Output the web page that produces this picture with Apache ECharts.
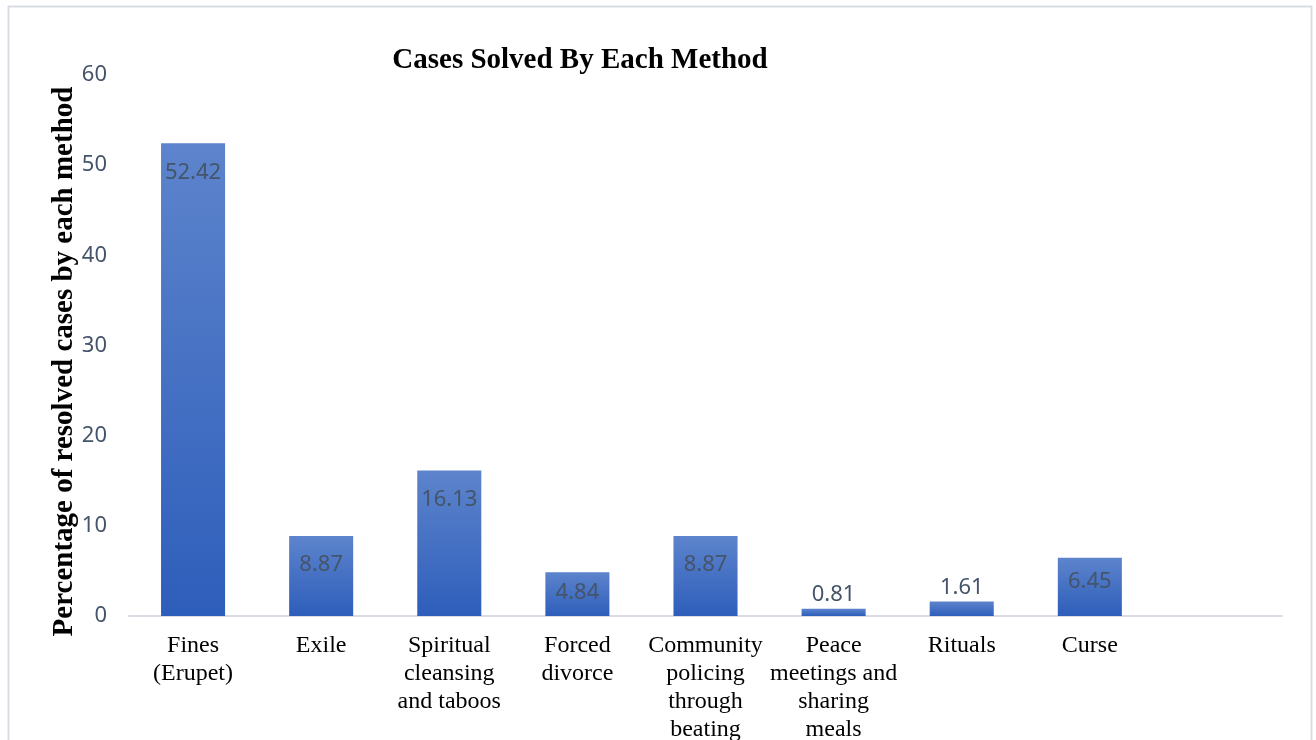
<!DOCTYPE html>
<html>
<head>
<meta charset="utf-8">
<title>Cases Solved By Each Method</title>
<script src="https://cdn.jsdelivr.net/npm/echarts@6/dist/echarts.min.js"></script>
<style>
  html, body { margin: 0; padding: 0; background: #ffffff; }
  #chart { width: 1316px; height: 740px; }
</style>
</head>
<body>
<div id="chart"></div>
<script>
// Methods used to resolve cases (last slot left empty, as in the original layout)
const methods = [
  'Fines\n(Erupet)',
  'Exile',
  'Spiritual\ncleansing\nand taboos',
  'Forced\ndivorce',
  'Community\npolicing\nthrough\nbeating',
  'Peace\nmeetings and\nsharing\nmeals',
  'Rituals',
  'Curse',
  ''
];

// Percentage of resolved cases per method
const percentages = [52.42, 8.87, 16.13, 4.84, 8.87, 0.81, 1.61, 6.45, null];

// Value axis ticks
const yTicks = [0, 10, 20, 30, 40, 50, 60];

const labelColor = '#44546a';

// Small bars get their label above the bar; taller bars keep it inside the top edge
const seriesData = percentages.map(function (v) {
  if (v === null) return { value: null };
  let label;
  if (v < 3) {
    label = { position: 'top', distance: 3 };
  } else {
    const d = v >= 8 ? 18 : (v >= 6 ? 13 : 9);
    label = { position: 'insideTop', distance: d };
  }
  return { value: v, label: label };
});

const chart = echarts.init(document.getElementById('chart'), null, { renderer: 'canvas' });

chart.setOption({
  backgroundColor: '#ffffff',
  animation: false,
  graphic: [{
    type: 'rect',
    shape: { x: 8.5, y: 6.5, width: 1303, height: 760 },
    style: { fill: 'none', stroke: '#d9dde3', lineWidth: 2 },
    silent: true,
    z: -10
  }],
  title: {
    text: 'Cases Solved By Each Method',
    left: 575,
    top: 41,
    textAlign: 'center',
    textStyle: {
      fontFamily: '"Liberation Serif", "Times New Roman", serif',
      fontWeight: 'bold',
      fontSize: 29,
      color: '#000000'
    }
  },
  grid: {
    left: 129,
    right: 34,
    top: 75,
    bottom: 124,
    containLabel: false,
    outerBoundsMode: 'none'
  },
  xAxis: {
    type: 'category',
    data: methods,
    axisLine: { show: true, lineStyle: { color: '#d9dde3', width: 2 } },
    axisTick: { show: false },
    axisLabel: {
      interval: 0,
      margin: 16,
      fontFamily: '"Liberation Serif", "Times New Roman", serif',
      fontSize: 24,
      lineHeight: 28,
      color: '#000000',
      align: 'center'
    }
  },
  yAxis: {
    type: 'value',
    min: yTicks[0],
    max: yTicks[yTicks.length - 1],
    interval: yTicks[1] - yTicks[0],
    name: 'Percentage of resolved cases by each method',
    nameLocation: 'middle',
    nameGap: 50,
    nameMoveOverlap: false,
    nameRotate: 90,
    nameTextStyle: {
      fontFamily: '"Liberation Serif", "Times New Roman", serif',
      fontWeight: 'bold',
      fontSize: 29,
      color: '#000000',
      padding: [0, 32, 0, 0]
    },
    axisLine: { show: false },
    axisTick: { show: false },
    splitLine: { show: false },
    axisLabel: {
      margin: 22,
      fontFamily: '"Noto Sans", "Open Sans", sans-serif',
      fontSize: 22,
      color: labelColor
    }
  },
  series: [{
    type: 'bar',
    data: seriesData,
    barWidth: '50%',
    itemStyle: {
      color: new echarts.graphic.LinearGradient(0, 0, 0, 1, [
        { offset: 0, color: '#5d84cc' },
        { offset: 1, color: '#2e5ebb' }
      ])
    },
    label: {
      show: true,
      fontFamily: '"Noto Sans", "Open Sans", sans-serif',
      fontSize: 22,
      color: labelColor,
      formatter: function (p) { return p.value.toFixed(2); }
    }
  }]
});
</script>
</body>
</html>
